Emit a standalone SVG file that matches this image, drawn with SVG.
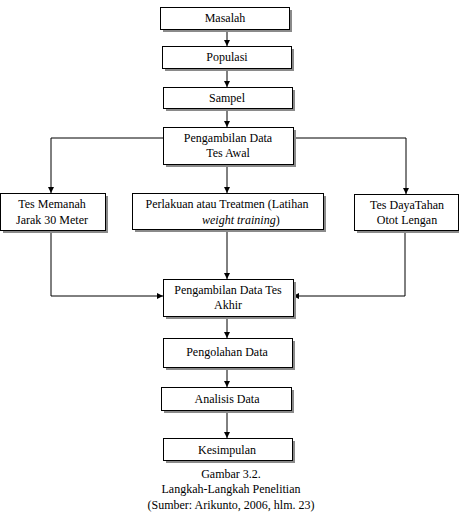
<svg xmlns="http://www.w3.org/2000/svg" width="459" height="512" viewBox="0 0 459 512">
<defs>
<marker id="ah" markerWidth="6" markerHeight="6" refX="6" refY="3" orient="auto" markerUnits="userSpaceOnUse">
<path d="M0,0 L6,3 L0,6 Z" fill="#000"/>
</marker>
<style>
.box{fill:#fff;stroke:#000;stroke-width:1}
.sh{fill:#8a8a8a}
.t{font-size:12px;fill:#000;text-anchor:middle}
.c{fill:none;stroke:#000;stroke-width:1;marker-end:url(#ah)}
</style>
</defs>
<rect width="459" height="512" fill="#fff"/>
<g id="connectors">
<path class="c" d="M227,29 V46"/>
<path class="c" d="M227,68 V87"/>
<path class="c" d="M227,108 V127"/>
<path class="c" d="M163,138 H51 V193"/>
<path class="c" d="M293,138 H406 V194"/>
<path class="c" d="M227,164 V193"/>
<path class="c" d="M51,230 V296 H163"/>
<path class="c" d="M227,229 V279"/>
<path class="c" d="M405,230 V296 H293"/>
<path class="c" d="M227,316 V338"/>
<path class="c" d="M227,367 V387"/>
<path class="c" d="M227,410 V438"/>
</g>
<g font-family="Liberation Serif, Times New Roman, serif">
<g id="masalah">
<rect class="sh" x="163" y="10" width="129" height="22"/>
<rect class="box" x="160.5" y="7.5" width="129" height="22"/>
<text class="t" x="225" y="22">Masalah</text>
</g>
<g id="populasi">
<rect class="sh" x="165" y="49" width="129" height="22"/>
<rect class="box" x="162.5" y="46.5" width="129" height="22"/>
<text class="t" x="227" y="61">Populasi</text>
</g>
<g id="sampel">
<rect class="sh" x="166" y="90" width="129" height="21"/>
<rect class="box" x="163.5" y="87.5" width="129" height="21"/>
<text class="t" x="227" y="102">Sampel</text>
</g>
<g id="tes-awal">
<rect class="sh" x="166" y="130" width="130" height="37"/>
<rect class="box" x="163.5" y="127.5" width="130" height="37"/>
<text class="t" x="228" y="142">Pengambilan Data</text>
<text class="t" x="228" y="157">Tes Awal</text>
</g>
<g id="tes-memanah">
<rect class="sh" x="3" y="196" width="105" height="37"/>
<rect class="box" x="0.5" y="193.5" width="105" height="37"/>
<text class="t" x="52" y="208">Tes Memanah</text>
<text class="t" x="52" y="224">Jarak 30 Meter</text>
</g>
<g id="perlakuan">
<rect class="sh" x="135" y="196" width="191" height="36"/>
<rect class="box" x="132.5" y="193.5" width="191" height="36"/>
<text class="t" x="227" y="208">Perlakuan atau Treatmen (Latihan</text>
<text class="t" x="202" y="224" style="text-anchor:start"><tspan font-style="italic">weight training</tspan>)</text>
</g>
<g id="tes-dayatahan">
<rect class="sh" x="357" y="197" width="104" height="36"/>
<rect class="box" x="354.5" y="194.5" width="104" height="36"/>
<text class="t" x="407" y="209">Tes DayaTahan</text>
<text class="t" x="407" y="224">Otot Lengan</text>
</g>
<g id="tes-akhir">
<rect class="sh" x="166" y="282" width="130" height="37"/>
<rect class="box" x="163.5" y="279.5" width="130" height="37"/>
<text class="t" x="228" y="294">Pengambilan Data Tes</text>
<text class="t" x="228" y="309">Akhir</text>
</g>
<g id="pengolahan">
<rect class="sh" x="166" y="341" width="129" height="29"/>
<rect class="box" x="163.5" y="338.5" width="129" height="29"/>
<text class="t" x="227" y="356">Pengolahan Data</text>
</g>
<g id="analisis">
<rect class="sh" x="164" y="390" width="130" height="23"/>
<rect class="box" x="161.5" y="387.5" width="130" height="23"/>
<text class="t" x="227" y="403">Analisis Data</text>
</g>
<g id="kesimpulan">
<rect class="sh" x="166" y="441" width="129" height="22"/>
<rect class="box" x="163.5" y="438.5" width="129" height="22"/>
<text class="t" x="227" y="454">Kesimpulan</text>
</g>
<g id="caption">
<text class="t" x="231" y="478">Gambar 3.2.</text>
<text class="t" x="231" y="493">Langkah-Langkah Penelitian</text>
<text class="t" x="231" y="509">(Sumber: Arikunto, 2006, hlm. 23)</text>
</g>
</g>
</svg>
